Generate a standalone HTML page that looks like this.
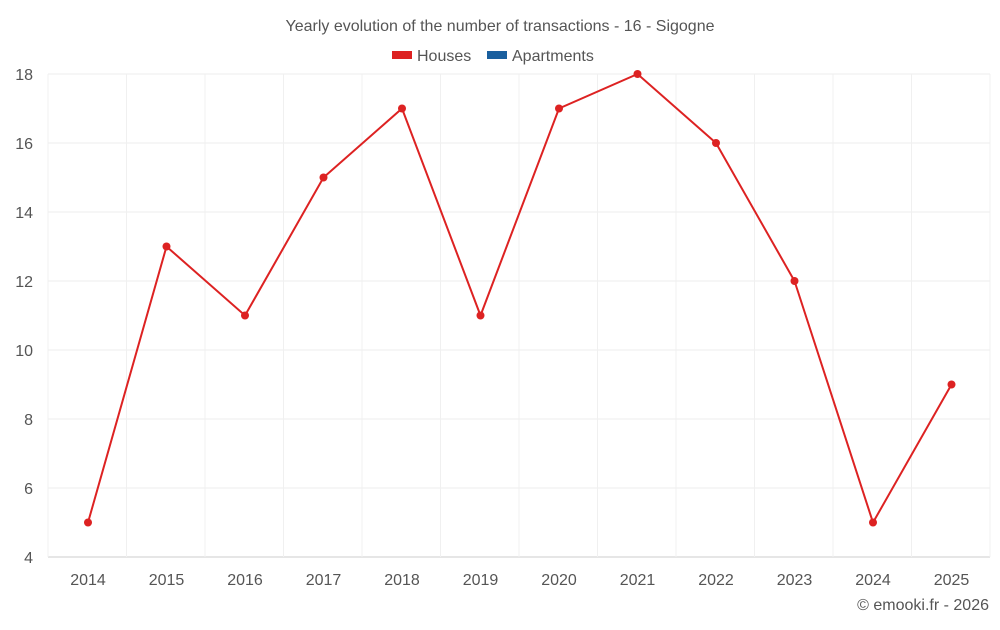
<!DOCTYPE html>
<html><head><meta charset="utf-8"><style>
body{margin:0;background:#fff;font-family:"Liberation Sans",sans-serif;}
svg text{font-family:"Liberation Sans",sans-serif;fill:#555;}
</style></head><body>
<svg id="chart" width="1000" height="625" xmlns="http://www.w3.org/2000/svg">
<text x="500" y="31" font-size="16" text-anchor="middle">Yearly evolution of the number of transactions - 16 - Sigogne</text>
<g>
<g><rect x="392" y="51" width="20" height="8" fill="#dd2222"/><text x="417" y="61" font-size="16">Houses</text></g>
<g><rect x="487" y="51" width="20" height="8" fill="#1a5f9e"/><text x="512" y="61" font-size="16">Apartments</text></g>
</g>
<g id="grid"></g>
<g id="axes"></g>
<g id="series"></g>
<text x="989" y="610" font-size="16" text-anchor="end">© emooki.fr - 2026</text>
</svg>
<script>
const years=["2014","2015","2016","2017","2018","2019","2020","2021","2022","2023","2024","2025"];
const houses=[5,13,11,15,17,11,17,18,16,12,5,9];
const yTicks=[4,6,8,10,12,14,16,18];
const NS="http://www.w3.org/2000/svg";
const L=48,R=990,T=74,B=557,yMin=4,yMax=18;
const bw=(R-L)/years.length;
const x=i=>L+bw*(i+0.5)+0.75;
const y=v=>B-(v-yMin)/(yMax-yMin)*(B-T);
function mk(t,a,p){const e=document.createElementNS(NS,t);for(const k in a)e.setAttribute(k,a[k]);p.appendChild(e);return e;}
const g=document.getElementById('grid'),ax=document.getElementById('axes'),s=document.getElementById('series');
yTicks.forEach(v=>{
 const l=mk('line',{x1:L,x2:R,y1:y(v),y2:y(v),stroke:v===yMin?'#ccc':'#eeeeee','stroke-width':1},g);
 
 
 const t=mk('text',{x:33,y:y(v)+6,'font-size':16,'text-anchor':'end'},ax);t.textContent=v;
 
 
});
for(let i=0;i<=years.length;i++){
 const l=mk('line',{x1:L+bw*i,x2:L+bw*i,y1:T,y2:B,stroke:'#f0f0f0','stroke-width':1},g);
 
 
}
years.forEach((yr,i)=>{
 const t=mk('text',{x:x(i),y:585,'font-size':16,'text-anchor':'middle'},ax);t.textContent=yr;
 
 
});
const p=mk('polyline',{points:houses.map((v,i)=>x(i)+','+y(v)).join(' '),fill:'none',stroke:'#dd2222','stroke-width':2},s);


houses.forEach((v,i)=>{
 const c=mk('circle',{cx:x(i),cy:y(v),r:4,fill:'#dd2222'},s);
 
 
});
</script>
</body></html>
